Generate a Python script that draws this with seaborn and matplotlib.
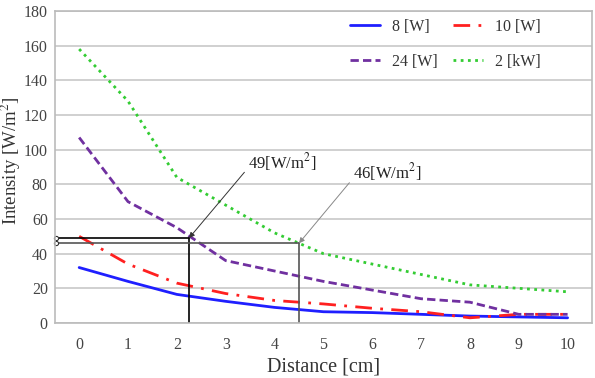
import numpy as np
import pandas as pd
import matplotlib
matplotlib.use("Agg")
import matplotlib.pyplot as plt
import seaborn as sns

distance = [0, 1, 2, 3, 4, 5, 6, 7, 8, 9, 10]
w8 = [32, 24, 16.5, 12.5, 9, 6.5, 6, 5, 4, 3.5, 3]
w10 = [50, 34, 23, 17, 13, 11, 8.5, 6.5, 3, 5, 5]
w24 = [107, 70, 55, 36, 30, 24, 19, 14, 12, 5, 5]
kw2 = [158, 128, 84, 68, 52, 40, 34, 28, 22, 20, 18]
series_names = ["8 [W]", "10 [W]", "24 [W]", "2 [kW]"]
mark1_x, mark1_y, mark1_text = 2.25, 49, "49[W/m$^2$]"
mark2_x, mark2_y, mark2_text = 4.5, 46, "46[W/m$^2$]"

sns.set_theme(style="whitegrid")
plt.rcParams["font.family"] = ["Liberation Serif", "DejaVu Serif"]
plt.rcParams["mathtext.fontset"] = "stix"

fig = plt.figure(figsize=(5.95, 3.78), dpi=100)
ax = fig.add_axes([0.092, 0.1455, 0.903, 0.8255])

styles = [
    dict(color="#1f1fff", ls="-", lw=2.0),
    dict(color="#ff2020", ls=(0, (6, 3, 1, 3)), lw=2.0),
    dict(color="#7030a0", ls=(0, (3, 1.5)), lw=2.0),
    dict(color="#33cc33", ls=(0, (1, 1.6)), lw=2.0),
]
for name, vals, st in zip(series_names, [w8, w10, w24, kw2], styles):
    df = pd.DataFrame({"Distance": distance, "Intensity": vals})
    sns.lineplot(data=df, x="Distance", y="Intensity", ax=ax, color=st["color"],
                 linestyle=st["ls"], linewidth=st["lw"], label=name)

# reference lines
ax.plot([-0.5, mark1_x], [mark1_y, mark1_y], color="black", lw=1.2)
ax.plot([mark1_x, mark1_x], [0, mark1_y], color="black", lw=1.2)
ax.plot([-0.5, mark2_x], [mark2_y, mark2_y], color="#555555", lw=1.2)
ax.plot([mark2_x, mark2_x], [0, mark2_y], color="#555555", lw=1.2)
ax.plot([-0.47, -0.47], [mark1_y, mark2_y], ls="none", marker="o", ms=3,
        mfc="white", mec="#333333", mew=0.8, clip_on=False)

ax.annotate(mark1_text, xy=(mark1_x, mark1_y), xytext=(3.45, 93),
            fontsize=12, color="#222222", va="center", ha="left",
            arrowprops=dict(arrowstyle="-|>", color="#333333", lw=0.7,
                            mutation_scale=8, shrinkA=0, shrinkB=0,
                            relpos=(0, 0.2)))
ax.annotate(mark2_text, xy=(mark2_x, mark2_y), xytext=(5.6, 87),
            fontsize=12, color="#222222", va="center", ha="left",
            arrowprops=dict(arrowstyle="-|>", color="#888888", lw=0.7,
                            mutation_scale=8, shrinkA=0, shrinkB=0,
                            relpos=(0, 0.2)))

ax.set_xlim(-0.5, 10.5)
ax.set_ylim(0, 180)
ax.set_xticks(distance)
ax.set_yticks(np.arange(0, 181, 20))
ax.tick_params(axis="both", labelsize=11.5, labelcolor="#444444", length=3,
               direction="out", width=0.8, color="#aaaaaa")
ax.tick_params(axis="x", pad=7)
ax.tick_params(axis="y", pad=2)
ax.xaxis.grid(False)
ax.yaxis.grid(True, color="#c8c8c8", lw=1.2)
for s in ax.spines.values():
    s.set_color("#bbbbbb")
    s.set_linewidth(1.2)
ax.set_xlabel("Distance [cm]", fontsize=14.5, color="#333333", labelpad=3)
ax.set_ylabel("Intensity [W/m$^2$]", fontsize=13.5, color="#333333")
ax.yaxis.set_label_coords(-0.059, 0.52)

h, l = ax.get_legend_handles_labels()
order = [0, 2, 1, 3]
leg = ax.legend([h[i] for i in order], [l[i] for i in order],
                loc="upper right", bbox_to_anchor=(0.905, 0.975), ncol=2,
                frameon=False, fontsize=11.5, labelspacing=1.2, columnspacing=0.95,
                handlelength=1.9, handletextpad=0.75, borderpad=0, borderaxespad=0)
for t in leg.get_texts():
    t.set_color("#333333")

fig.savefig("out.png", dpi=100)
